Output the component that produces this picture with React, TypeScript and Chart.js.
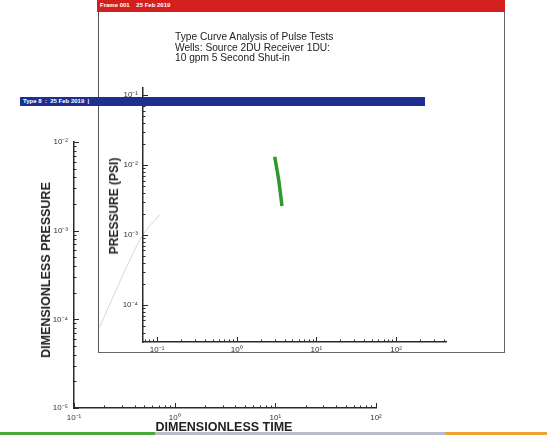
import React, { useEffect, useRef } from "react";
import { Chart, registerables } from "chart.js";

Chart.register(...registerables);

// ---- data ----
const outerXMajors = [0.1, 1, 10, 100];
const outerYMajors = [1e-5, 1e-4, 1e-3, 1e-2];
const innerXMajors = [0.1, 1, 10, 100];
const innerYMajors = [1e-4, 1e-3, 1e-2, 1e-1];

const pulseTime = [3.0, 3.1, 3.25, 3.4, 3.55, 3.7];
const pulsePressure = [0.0131, 0.0105, 0.0078, 0.0056, 0.0038, 0.0026];

const typeCurveTime = [0.18, 0.25, 0.36, 0.5, 0.71];
const typeCurvePressure = [8.2e-5, 1.9e-4, 4.7e-4, 9.5e-4, 1.5e-3];

const titleLines = [
  "Type Curve Analysis of Pulse Tests",
  "Wells: Source 2DU Receiver 1DU:",
  "10 gpm 5 Second Shut-in",
];

const SUP: Record<string, string> = {
  "-": "\u207B", "0": "\u2070", "1": "\u00B9", "2": "\u00B2", "3": "\u00B3",
  "4": "\u2074", "5": "\u2075", "6": "\u2076", "7": "\u2077", "8": "\u2078", "9": "\u2079",
};
const pow10Label = (v: number) => {
  const e = Math.round(Math.log10(v));
  return "10" + String(e).split("").map((c) => SUP[c] || c).join("");
};
const isMajor = (v: number) => Math.abs(Math.log10(v) - Math.round(Math.log10(v))) < 1e-6;

const logTicks = (min: number, max: number) => {
  const out: number[] = [];
  for (let e = Math.floor(Math.log10(min)); e <= Math.ceil(Math.log10(max)); e++) {
    for (let m = 1; m <= 9; m++) {
      const v = m * Math.pow(10, e);
      if (v >= min * 0.9999 && v <= max * 1.0001) out.push(v);
    }
  }
  return out;
};

const innerTicksPlugin = {
  id: "innerTicks",
  afterDraw(chart: any) {
    const { ctx, chartArea } = chart;
    ctx.save();
    ctx.strokeStyle = "#2a2a2a";
    ctx.lineWidth = 1;
    const xs = chart.scales.x;
    const ys = chart.scales.y;
    xs.ticks.forEach((t: any) => {
      const p = Math.round(xs.getPixelForValue(t.value)) + 0.5;
      const len = isMajor(t.value) ? 5 : 2.5;
      ctx.beginPath();
      ctx.moveTo(p, chartArea.bottom);
      ctx.lineTo(p, chartArea.bottom - len);
      ctx.stroke();
    });
    ys.ticks.forEach((t: any) => {
      const p = Math.round(ys.getPixelForValue(t.value)) + 0.5;
      const len = isMajor(t.value) ? 5 : 2.5;
      ctx.beginPath();
      ctx.moveTo(chartArea.left, p);
      ctx.lineTo(chartArea.left + len, p);
      ctx.stroke();
    });
    ctx.restore();
  },
};

type Cfg = {
  xMin: number; xMax: number; yMin: number; yMax: number;
  padding: { left: number; right: number; top: number; bottom: number };
  yWidth: number; xHeight: number; xPad: number; yPad: number;
  datasets: any[];
};

const makeChart = (canvas: HTMLCanvasElement, c: Cfg) =>
  new Chart(canvas, {
    type: "line",
    data: { datasets: c.datasets },
    plugins: [innerTicksPlugin],
    options: {
      responsive: false,
      animation: false,
      parsing: false as any,
      layout: { padding: c.padding },
      plugins: { legend: { display: false }, tooltip: { enabled: false } },
      scales: {
        x: {
          type: "logarithmic",
          position: "bottom",
          min: c.xMin,
          max: c.xMax,
          afterBuildTicks: (s: any) => {
            s.ticks = logTicks(c.xMin, c.xMax).map((v) => ({ value: v, major: isMajor(v) }));
          },
          afterFit: (s: any) => { s.height = c.xHeight; },
          grid: { display: false, drawTicks: false },
          border: { display: true, color: "#2a2a2a", width: 1.5 },
          ticks: {
            autoSkip: false,
            maxRotation: 0,
            padding: c.xPad,
            color: "#333",
            font: { family: "Liberation Sans", size: 8 },
            callback: (v: any) => (isMajor(Number(v)) ? pow10Label(Number(v)) : ""),
          },
        },
        y: {
          type: "logarithmic",
          position: "left",
          min: c.yMin,
          max: c.yMax,
          afterBuildTicks: (s: any) => {
            s.ticks = logTicks(c.yMin, c.yMax).map((v) => ({ value: v, major: isMajor(v) }));
          },
          afterFit: (s: any) => { s.width = c.yWidth; },
          grid: { display: false, drawTicks: false },
          border: { display: true, color: "#2a2a2a", width: 1.5 },
          ticks: {
            autoSkip: false,
            padding: c.yPad,
            color: "#333",
            font: { family: "Liberation Sans", size: 8 },
            callback: (v: any) => (isMajor(Number(v)) ? pow10Label(Number(v)) : ""),
          },
        },
      },
    } as any,
  });

export default function App() {
  const outerRef = useRef<HTMLCanvasElement>(null);
  const innerRef = useRef<HTMLCanvasElement>(null);

  useEffect(() => {
    const outer = makeChart(outerRef.current!, {
      xMin: outerXMajors[0], xMax: outerXMajors[outerXMajors.length - 1],
      yMin: outerYMajors[0], yMax: outerYMajors[outerYMajors.length - 1],
      padding: { left: 0, right: 171, top: 142, bottom: 0 },
      yWidth: 74, xHeight: 29, xPad: 5, yPad: 6,
      datasets: [
        {
          data: typeCurveTime.map((t, i) => ({ x: t, y: typeCurvePressure[i] })),
          borderColor: "rgba(140,140,140,0.35)",
          borderWidth: 1,
          pointRadius: 0,
          tension: 0.4,
        },
      ],
    });
    const inner = makeChart(innerRef.current!, {
      xMin: 0.0667, xMax: 423, yMin: 2.95e-5, yMax: 0.126,
      padding: { left: 0, right: 101, top: 88, bottom: 0 },
      yWidth: 143, xHeight: 95, xPad: 3, yPad: 5,
      datasets: [
        {
          data: pulseTime.map((t, i) => ({ x: t, y: pulsePressure[i] })),
          borderColor: "#2f9a2c",
          borderWidth: 3.5,
          pointRadius: 0,
          tension: 0,
        },
      ],
    });
    return () => {
      outer.destroy();
      inner.destroy();
    };
  }, []);

  const abs: React.CSSProperties = { position: "absolute" };
  const bold = "'Liberation Sans', Arial, sans-serif";

  return (
    <div style={{ position: "fixed", left: 0, top: 0, width: 547, height: 437, background: "#fff", overflow: "hidden" }}>
      <canvas ref={outerRef} width={547} height={437} style={{ ...abs, left: 0, top: 0 }} />
      {/* window frame */}
      <div style={{ ...abs, left: 98, top: 12, width: 405, height: 340, borderLeft: "1.5px solid #555", borderRight: "1.5px solid #666", borderBottom: "1.5px solid #666" }} />
      <div style={{ ...abs, left: 97, top: 0, width: 408, height: 12, background: "#d41f1f" }}>
        <span style={{ ...abs, left: 3, top: 2, fontFamily: bold, fontWeight: 700, fontSize: 6, color: "#fff", whiteSpace: "pre" }}>{"Frame 001    25 Feb 2019"}</span>
      </div>
      <div style={{ ...abs, left: 175, top: 32, fontFamily: bold, fontSize: 10.2, lineHeight: "10.5px", color: "#222", whiteSpace: "nowrap" }}>
        {titleLines.map((l) => (
          <div key={l}>{l}</div>
        ))}
      </div>
      <canvas ref={innerRef} width={547} height={437} style={{ ...abs, left: 0, top: 0 }} />
      <div style={{ ...abs, left: 20, top: 97, width: 405, height: 9, background: "#1d2f92" }}>
        <span style={{ ...abs, left: 3, top: 1, fontFamily: bold, fontWeight: 700, fontSize: 6, color: "#fff", whiteSpace: "pre" }}>{"Type 8  :  25 Feb 2019  |"}</span>
      </div>
      {/* axis titles */}
      <div style={{ ...abs, left: 46, top: 270, transform: "translate(-50%,-50%) rotate(-90deg)", fontFamily: bold, fontWeight: 700, fontSize: 12.5, color: "#222", whiteSpace: "nowrap" }}>DIMENSIONLESS PRESSURE</div>
      <div style={{ ...abs, left: 114, top: 206, transform: "translate(-50%,-50%) rotate(-90deg)", fontFamily: bold, fontWeight: 700, fontSize: 12, color: "#222", whiteSpace: "nowrap" }}>PRESSURE (PSI)</div>
      <div style={{ ...abs, left: 224, top: 427, transform: "translate(-50%,-50%)", fontFamily: bold, fontWeight: 700, fontSize: 12.5, color: "#222", whiteSpace: "nowrap" }}>DIMENSIONLESS TIME</div>
      {/* bottom colour strip */}
      <div style={{ ...abs, left: 0, top: 432, width: 155, height: 3, background: "#4aa83a" }} />
      <div style={{ ...abs, left: 155, top: 432, width: 290, height: 3, background: "#b9bccb" }} />
      <div style={{ ...abs, left: 445, top: 432, width: 102, height: 3, background: "#f0a133" }} />
    </div>
  );
}
